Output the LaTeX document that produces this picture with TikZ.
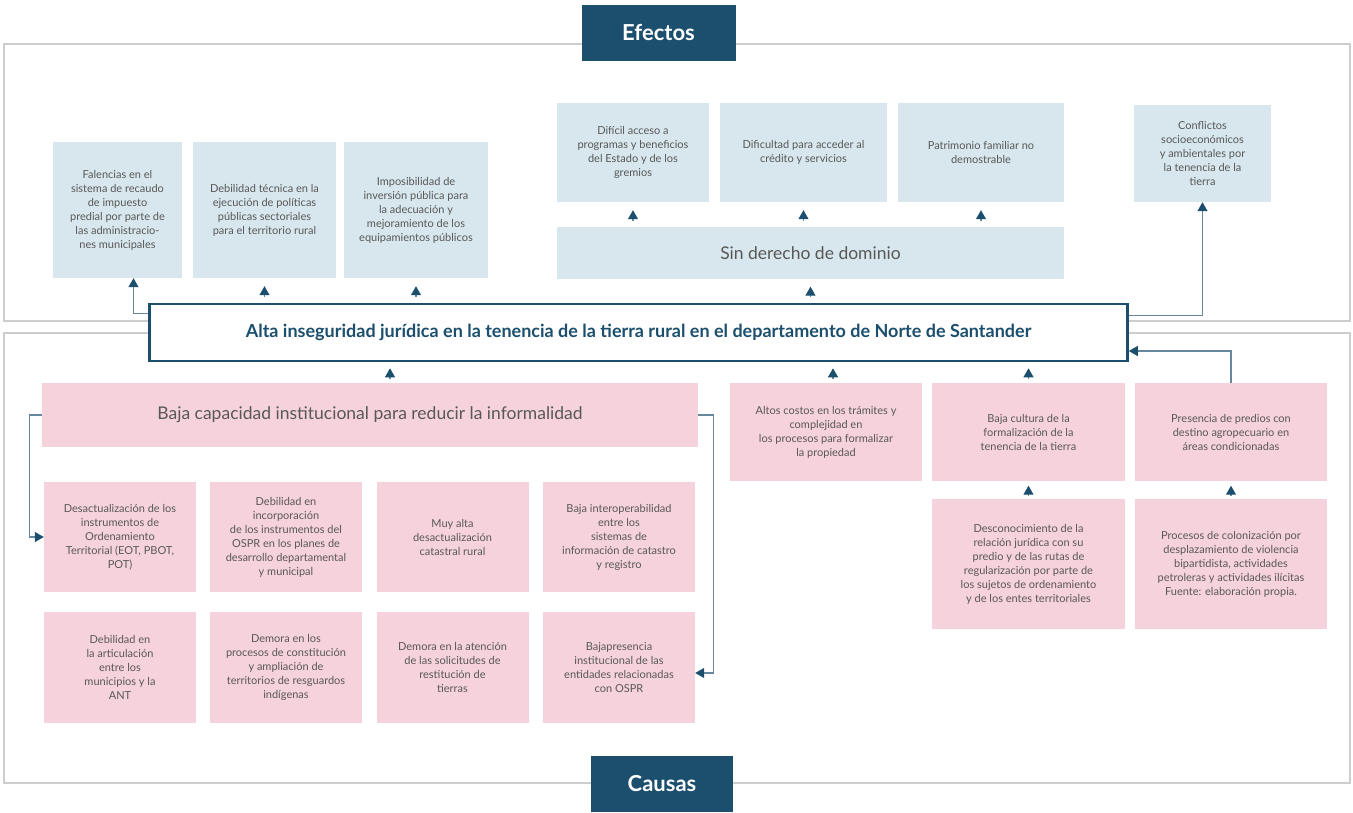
\documentclass[tikz,border=0pt]{standalone}
\usepackage{fontspec}
\setmainfont{Lato}
\usetikzlibrary{arrows.meta}
\definecolor{custom-navy}{RGB}{28, 79, 110}
\definecolor{custom-line}{RGB}{104, 134, 156}
\definecolor{custom-blue}{RGB}{215, 231, 237}
\definecolor{custom-pink}{RGB}{246, 210, 220}
\definecolor{custom-gray}{RGB}{88, 88, 88}
\definecolor{custom-frame}{RGB}{205, 205, 205}

\begin{document}
\begin{tikzpicture}[x=1pt, y=-1pt,
    effect/.style={fill=custom-blue, text=custom-gray, align=center, inner sep=2pt,
        font=\fontsize{11}{14}\selectfont},
    cause/.style={effect, fill=custom-pink},
    tag/.style={fill=custom-navy, text=white, font=\fontsize{22}{26}\selectfont\bfseries,
        minimum height=56pt},
    link/.style={draw=custom-line, line width=1.1pt,
        -{Triangle[width=10pt,length=9pt,color=custom-navy]}},
    tip/.style={link, shorten >=#1, shorten <=#1-2pt}]
\useasboundingbox (0,0) rectangle (1353,812);
\draw[custom-frame, line width=2pt] (4,44) rectangle (1350,321);
\draw[custom-frame, line width=2pt] (4,333) rectangle (1350,783);

\node[tag, minimum width=154pt] (efectos) at (658.5,32.5) {Efectos};
\node[tag, minimum width=142pt] (causas) at (662,784) {Causas};

\node[draw=custom-navy, line width=2.6pt, fill=white, text=custom-navy,
      minimum width=978pt, minimum height=57pt,
      font=\fontsize{18}{22}\selectfont\bfseries] (alta) at (638.5,332.5)
    {Alta inseguridad jurídica en la tenencia de la tierra rural en el departamento de Norte de Santander};

\node[effect, minimum width=129pt, minimum height=136pt] (falencias) at (117.5,210)
    {Falencias en el\\ sistema de recaudo\\ de impuesto\\ predial por parte de\\ las administracio-\\ nes municipales};
\node[effect, minimum width=143pt, minimum height=136pt] (tecnica) at (264.5,210)
    {Debilidad técnica en la\\ ejecución de políticas\\ públicas sectoriales\\ para el territorio rural};
\node[effect, minimum width=144pt, minimum height=136pt] (inversion) at (416,210)
    {Imposibilidad de\\ inversión pública para\\ la adecuación y\\ mejoramiento de los\\ equipamientos públicos};
\node[effect, minimum width=152pt, minimum height=99pt] (acceso) at (633,152.5)
    {Difícil acceso a\\ programas y beneficios\\ del Estado y de los\\ gremios};
\node[effect, minimum width=167pt, minimum height=99pt] (credito) at (803.5,152.5)
    {Dificultad para acceder al\\ crédito y servicios};
\node[effect, minimum width=166pt, minimum height=99pt] (patrimonio) at (981,152.5)
    {Patrimonio familiar no\\ demostrable};
\node[effect, minimum width=507pt, minimum height=52pt,
      font=\fontsize{17.5}{21}\selectfont] (dominio) at (810.5,253) {Sin derecho de dominio};
\node[effect, minimum width=137pt, minimum height=97pt] (conflictos) at (1202.5,153.5)
    {Conflictos\\ socioeconómicos\\ y ambientales por\\ la tenencia de la\\ tierra};

\node[cause, minimum width=656pt, minimum height=64pt,
      font=\fontsize{17.5}{21}\selectfont] (capacidad) at (370,415)
    {Baja capacidad institucional para reducir la informalidad};
\node[cause, minimum width=152pt, minimum height=110pt] (ordenamiento) at (120,537)
    {Desactualización de los\\ instrumentos de\\ Ordenamiento\\ Territorial (EOT, PBOT,\\ POT)};
\node[cause, minimum width=152pt, minimum height=110pt] (incorporacion) at (286,537)
    {Debilidad en\\ incorporación\\ de los instrumentos del\\ OSPR en los planes de\\ desarrollo departamental\\ y municipal};
\node[cause, minimum width=152pt, minimum height=110pt] (catastral) at (452.5,537)
    {Muy alta\\ desactualización\\ catastral rural};
\node[cause, minimum width=152pt, minimum height=110pt] (interoperabilidad) at (619,537)
    {Baja interoperabilidad\\ entre los\\ sistemas de\\ información de catastro\\ y registro};
\node[cause, minimum width=152pt, minimum height=111pt] (articulacion) at (120,667.5)
    {Debilidad en\\ la articulación\\ entre los\\ municipios y la\\ ANT};
\node[cause, minimum width=152pt, minimum height=111pt] (resguardos) at (286,667.5)
    {Demora en los\\ procesos de constitución\\ y ampliación de\\ territorios de resguardos\\ indígenas};
\node[cause, minimum width=152pt, minimum height=111pt] (restitucion) at (452.5,667.5)
    {Demora en la atención\\ de las solicitudes de\\ restitución de\\ tierras};
\node[cause, minimum width=152pt, minimum height=111pt] (presencia) at (619,667.5)
    {Bajapresencia\\ institucional de las\\ entidades relacionadas\\ con OSPR};

\node[cause, minimum width=192pt, minimum height=98pt] (costos) at (826,432)
    {Altos costos en los trámites y\\ complejidad en\\ los procesos para formalizar\\ la propiedad};
\node[cause, minimum width=193pt, minimum height=98pt] (cultura) at (1028.5,432)
    {Baja cultura de la\\ formalización de la\\ tenencia de la tierra};
\node[cause, minimum width=192pt, minimum height=98pt] (predios) at (1231,432)
    {Presencia de predios con\\ destino agropecuario en\\ áreas condicionadas};
\node[cause, minimum width=193pt, minimum height=130pt] (desconocimiento) at (1028.5,564)
    {Desconocimiento de la\\ relación jurídica con su\\ predio y de las rutas de\\ regularización por parte de\\ los sujetos de ordenamiento\\ y de los entes territoriales};
\node[cause, minimum width=192pt, minimum height=130pt] (colonizacion) at (1231,564)
    {Procesos de colonización por\\ desplazamiento de violencia\\ bipartidista, actividades\\ petroleras y actividades ilícitas\\ Fuente: elaboración propia.};

\draw[link] ([yshift=19pt]alta.west) -| ([xshift=16pt]falencias.south);
\draw[tip=8pt] (alta.north -| tecnica) -- (tecnica.south);
\draw[tip=8pt] (alta.north -| inversion) -- (inversion.south);
\draw[tip=7.5pt] (alta.north -| dominio) -- (dominio.south);
\draw[tip=8pt] (dominio.north -| acceso) -- (acceso.south);
\draw[tip=8pt] (dominio.north -| credito) -- (credito.south);
\draw[tip=8pt] (dominio.north -| patrimonio) -- (patrimonio.south);
\draw[link] ([yshift=17pt]alta.east) -| (conflictos.south);

\draw[tip=6pt] ([xshift=20pt]capacidad.north) -- ([xshift=20pt]capacidad.north |- alta.south);
\draw[tip=6pt] ([xshift=7pt]costos.north) -- ([xshift=7pt]costos.north |- alta.south);
\draw[tip=6pt] (cultura.north) -- (cultura.north |- alta.south);
\draw[tip=4.5pt] (desconocimiento.north) -- (cultura.south);
\draw[tip=4.5pt] (colonizacion.north) -- (predios.south);
\draw[link] (predios.north) |- ([yshift=-18.5pt]alta.east);

\draw[link] (capacidad.west) -- ++(-12,0) |- (ordenamiento.west);
\draw[link] (capacidad.east) -- ++(15,0) |- ([yshift=-5.5pt]presencia.east);
\end{tikzpicture}
\end{document}
